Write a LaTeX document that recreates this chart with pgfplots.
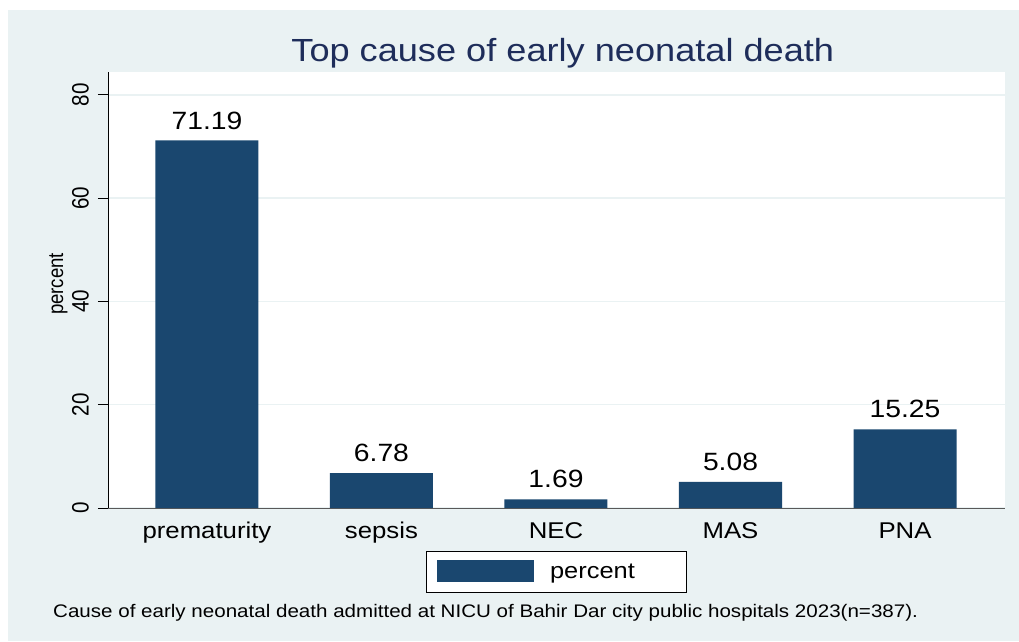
\documentclass[border=0pt]{standalone}
\usepackage{pgfplots}
\pgfplotsset{compat=1.18}
\usepackage{fontspec}
\setmainfont{Liberation Sans}[FakeStretch=1.13]
\newfontfamily\rotfont{Liberation Sans}[FakeStretch=0.87]
\definecolor{bgcol}{HTML}{EAF2F3}
\definecolor{barcol}{HTML}{1A476F}
\definecolor{titlecol}{HTML}{1E2D5A}
\begin{document}
\begin{tikzpicture}
% page and graph region
\fill[white] (0pt,0pt) rectangle (1019pt,641pt);
\fill[bgcol] (8pt,0pt) rectangle (1019pt,631pt);
\begin{axis}[
  at={(108pt,133pt)}, anchor=south west,
  scale only axis, width=897pt, height=436pt,
  xmin=-0.567, xmax=4.573, ymin=0, ymax=84.45,
  axis background/.style={fill=white},
  axis x line*=bottom, axis y line*=left,
  x axis line style={black!65, line width=1pt},
  y axis line style={black, line width=1pt},
  xtick={0,1,2,3,4},
  xticklabels={prematurity, sepsis, NEC, MAS, PNA},
  xtick style={draw=none},
  xticklabel style={font=\fontsize{22.8}{26}\selectfont, anchor=base, inner sep=0pt, yshift=-20pt},
  ytick={0,20,40,60,80},
  tick align=outside, major tick length=10pt,
  ytick style={black, line width=1pt},
  yticklabel style={font=\rotfont\fontsize{23.7}{26}\selectfont, xshift=-9pt, rotate=90, anchor=south, inner sep=0pt,
    /pgf/number format/assume math mode=true},
  ymajorgrids, grid style={bgcol, line width=1.5pt},
  ylabel={percent},
  ylabel style={font=\rotfont\fontsize{21.4}{24}\selectfont, at={(axis description cs:-0.050,0.514)}, anchor=base, rotate=0},
  title={Top cause of early neonatal death},
  title style={font=\fontsize{32}{36}\selectfont, color=titlecol, at={(axis description cs:0.507,1.0229)}, anchor=base, inner sep=0pt, yshift=-5pt},
  ybar, bar width=103pt,
  nodes near coords={\pgfmathprintnumber[fixed,fixed zerofill,precision=2,assume math mode=true]{\pgfplotspointmeta}},
  nodes near coords style={font=\fontsize{25}{28}\selectfont, anchor=south, inner sep=0pt, yshift=11pt, black},
  legend style={at={(axis description cs:0.4995,-0.1456)}, anchor=center, draw=black, line width=0.8pt,
    fill=white, inner sep=0pt, nodes={inner sep=0pt}, font=\fontsize{22.5}{26}\selectfont},
  legend image code/.code={
    \fill[barcol, draw=none] (0pt,-11pt) rectangle (97pt,11pt);
    \path[fill=none, draw=none] (-11pt,-20.5pt) rectangle (113pt,20.5pt);
  },
]
\addplot[fill=barcol, draw=none] coordinates {
(0, 71.19)
(1, 6.78)
(2, 1.69)
(3, 5.08)
(4, 15.25)
};
\addlegendentry{\makebox[136pt][l]{percent}}
\end{axis}
\node[anchor=base west, inner sep=0pt, font=\fontsize{18.2}{22}\selectfont] at (53pt,23.3pt)
  {Cause of early neonatal death admitted at NICU of Bahir Dar city public hospitals 2023(n=387).};
\end{tikzpicture}
\end{document}
